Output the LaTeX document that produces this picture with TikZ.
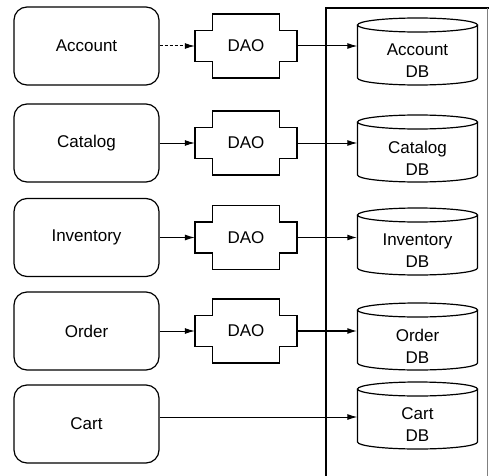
\documentclass[tikz,border=0pt]{standalone}
\usepackage{fontspec}
\setmainfont{Liberation Sans}
\usepackage{tikz}
\usetikzlibrary{shapes,arrows,positioning,calc,arrows.meta}

\tikzset{
  appbox/.style={draw, rounded corners=13pt, line width=1.2pt, minimum width=145pt, minimum height=78pt, font=\fontsize{17}{22}\selectfont},
  daobox/.style={minimum width=102pt, minimum height=64pt, font=\fontsize{17}{22}\selectfont},
  dbbox/.style={minimum width=120pt, align=center, font=\fontsize{17}{22}\selectfont},
  link/.style={-{Latex[length=10pt,width=6pt]}, line width=1pt}
}
% cross shaped outline round a DAO node
\newcommand{\daoframe}[1]{%
  \draw[line width=1.2pt] ($(#1)+(-33.5,32)$) -- ++(67,0) -- ++(0,-16.5) -- ++(17.5,0) -- ++(0,-31) -- ++(-17.5,0) -- ++(0,-16.5) -- ++(-67,0) -- ++(0,16.5) -- ++(-17.5,0) -- ++(0,31) -- ++(17.5,0) -- cycle;}
% cylinder round a DB node
\newcommand{\dbframe}[1]{%
  \draw[line width=1.2pt] ($(#1)+(-60,36)$) -- ($(#1)+(-60,-17)$) arc[start angle=180, end angle=360, x radius=60, y radius=7] -- ($(#1)+(60,36)$);
  \draw[line width=1.2pt] ($(#1)+(0,36)$) ellipse [x radius=60, y radius=7];}

\begin{document}
\begin{tikzpicture}[x=1pt, y=1pt]
    \useasboundingbox (0,0) rectangle (489,475);
    \draw[line width=1.2pt] (326,-5) -- (326,467) -- (495,467);
    \draw[gray, line width=1pt] (487,467) -- (487,-5); % database side

    \node[appbox] (account) at (86.5,429) {Account};
    \node[appbox] (catalog) at (86.5,332) {Catalog};
    \node[appbox] (inventory) at (86.5,237.5) {Inventory};
    \node[appbox] (order) at (86.5,144) {Order};
    \node[appbox] (cart) at (86.5,51) {Cart};

    \node[daobox] (dao1) at (246,429) {DAO};
    \node[daobox] (dao2) at (246,332) {DAO};
    \node[daobox] (dao3) at (246,237.5) {DAO};
    \node[daobox] (dao4) at (246,144) {DAO};
    \daoframe{dao1} \daoframe{dao2} \daoframe{dao3} \daoframe{dao4}

    \node[dbbox] (accountdb) at (417.5,414) {Account\\DB};
    \node[dbbox] (catalogdb) at (417.5,317) {Catalog\\DB};
    \node[dbbox] (inventorydb) at (417.5,224) {Inventory\\DB};
    \node[dbbox] (orderdb) at (417.5,129) {Order\\DB};
    \node[dbbox] (cartdb) at (417.5,50) {Cart\\DB};
    \dbframe{accountdb} \dbframe{catalogdb} \dbframe{inventorydb} \dbframe{orderdb} \dbframe{cartdb}

    \draw[link, densely dashed] (account) -- (dao1);
    \draw[link] (catalog) -- (dao2);
    \draw[link] (inventory) -- (dao3);
    \draw[link] (order) -- (dao4);
    \draw[link] (dao1.east) -- (dao1.east -| accountdb.west);
    \draw[link] (dao2.east) -- (dao2.east -| catalogdb.west);
    \draw[link, line width=1.5pt] (dao3.east) -- (dao3.east -| inventorydb.west);
    \draw[link, line width=1.5pt] (dao4.east) -- (dao4.east -| orderdb.west);
    \draw[link] ([yshift=7pt]cart.east) -- ([yshift=7pt]cart.east -| cartdb.west);
\end{tikzpicture}
\end{document}
